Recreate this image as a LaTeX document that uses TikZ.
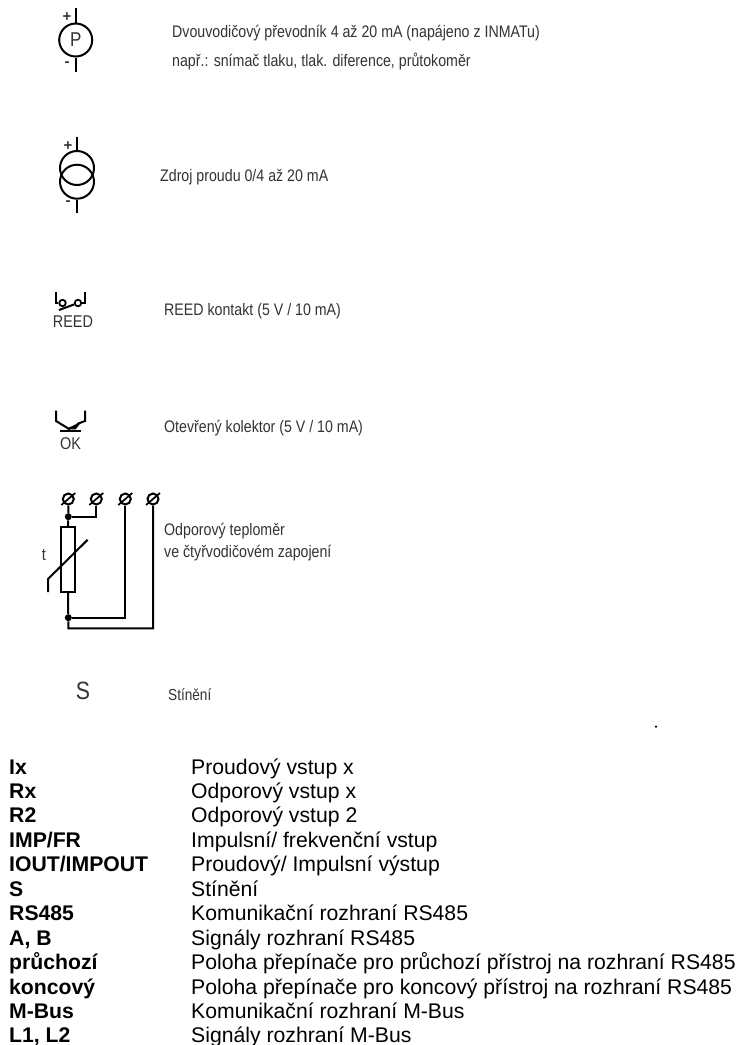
\documentclass[tikz,border=0pt]{standalone}
\usepackage{fontspec}
\setmainfont{Liberation Sans}
\newfontfamily\narrowf[FakeStretch=0.85]{Liberation Sans}
\definecolor{symtext}{HTML}{333333}
\tikzset{
 x=1pt,y=-1pt,
 wire/.style={line width=2pt,black},
 dot/.style={circle,fill=black,inner sep=0pt,minimum size=7pt},
 term/.style={circle,draw=black,line width=2pt,inner sep=0pt,minimum size=11pt},
 desc/.style={anchor=west,inner sep=0pt,font=\narrowf\fontsize{16.7}{19}\selectfont,text=symtext},
 sym/.style={inner sep=0pt,font=\narrowf\fontsize{17}{19}\selectfont,text=symtext},
 sign/.style={inner sep=0pt,font=\fontsize{15}{17}\selectfont\bfseries,text=symtext},
 key/.style={anchor=base west,inner sep=0pt,font=\fontsize{21.2}{24}\selectfont\bfseries},
 val/.style={anchor=base west,inner sep=0pt,font=\fontsize{21.2}{24}\selectfont},
}
\begin{document}
\begin{tikzpicture}
\useasboundingbox (0,0) rectangle (740,1045);
\clip (0,0) rectangle (740,1045);
% P transmitter
\node[circle,draw=black,line width=2pt,minimum size=33pt,inner sep=0pt,font=\narrowf\fontsize{20}{22}\selectfont,text=symtext] (pc) at (75.7,40) {P};
\coordinate (pt) at (75.7,8); \coordinate (pb) at (75.7,72);
\draw[wire] (pt) -- (pc); \draw[wire] (pc) -- (pb);
\node[sign] (pplus) at (67,17) {+};
\node[sign] (pminus) at (67,64) {-};
\node[desc] (d1a) at (172,33) {Dvouvodičový převodník 4 až 20 mA (napájeno z INMATu)};
\node[desc] (d1b) at (172,61) {např.: snímač tlaku, tlak. diference, průtokoměr};
% current source
\node[circle,draw=black,line width=2pt,minimum size=34pt,inner sep=0pt] (c1) at (77,168) {};
\node[circle,draw=black,line width=2pt,minimum size=34pt,inner sep=0pt] (c2) at (77,181.7) {};
\coordinate (ct) at (77,137); \coordinate (cb) at (77,213);
\draw[wire] (ct) -- (c1.north); \draw[wire] (c2.south) -- (cb);
\node[sign] (cplus) at (68,146) {+};
\node[sign] (cminus) at (68,203) {-};
\node[desc] (d2) at (160,177) {Zdroj proudu 0/4 až 20 mA};
% REED
\coordinate (rl) at (56,292); \coordinate (rr) at (85,292);
\node[circle,draw=black,line width=1.8pt,minimum size=6.5pt,inner sep=0pt] (ra) at (62.5,303) {};
\node[circle,draw=black,line width=1.8pt,minimum size=6.5pt,inner sep=0pt] (rb) at (78,303) {};
\draw[wire] (rl) |- (ra); \draw[wire] (rr) |- (rb);
\coordinate (rblade) at (59,310);
\draw[wire] (rblade) -- (rb);
\node[sym] (reed) at (73,322) {REED};
\node[desc] (d3) at (164,311) {REED kontakt (5 V / 10 mA)};
% OK
\coordinate (ol) at (56,410.5); \coordinate (or) at (85,410.5);
\coordinate (oc) at (70,429.5);
\coordinate (obl) at (60,430.5); \coordinate (obr) at (80.5,430.5);
\draw[wire] (ol) -- (56,421) -- (oc);
\draw[wire] (or) -- (85,421) -- (77,424);
\fill (81.7,421.5) -- (66,429) -- (75.5,429.5) -- cycle;
\draw[wire] (obl) -- (obr);
\node[sym] (ok) at (70.5,444) {OK};
\node[desc] (d4) at (164,428) {Otevřený kolektor (5 V / 10 mA)};
% RTD
\node[term] (t1) at (68.3,499) {};
\node[term] (t2) at (96.3,499) {};
\node[term] (t3) at (125.3,499) {};
\node[term] (t4) at (153,499) {};
\foreach \t in {t1,t2,t3,t4} \draw[line width=1.7pt] (\t.center)+(-7,6) -- +(7,-6);
\node[dot] (j1) at (68.3,516.7) {};
\node[dot] (j2) at (68.3,617.7) {};
\node[draw=black,line width=2pt,minimum width=13.4pt,minimum height=64.7pt,inner sep=0pt] (rtd) at (68,559.3) {};
\coordinate (b1) at (68.3,628.3);
\coordinate (b2) at (153,628.3);
\draw[wire] (t1) -- (j1) -- (rtd.north);
\draw[wire] (j1) -| (t2);
\draw[wire] (rtd.south) -- (j2) -- (b1) -- (b2) -- (t4);
\draw[wire] (j2) -| (t3);
\draw[wire] (48,592) -- (48,579) -- (87.7,539.7);
\node[sym] (tl) at (44,555) {t};
\node[desc] (d5a) at (164,531) {Odporový teploměr};
\node[desc] (d5b) at (164,553) {ve čtyřvodičovém zapojení};
% S
\node[sym,font=\narrowf\fontsize{25}{27}\selectfont] (s) at (83,691) {S};
\node[desc,font=\narrowf\fontsize{16}{18}\selectfont] (d6) at (168,695) {Stínění};
\node[circle,fill=black,inner sep=0pt,minimum size=2.5pt] (spk) at (656,726.5) {};
% legend
\foreach \n/\k/\v [count=\i from 0] in {
 a/Ix/Proudový vstup x,
 b/Rx/Odporový vstup x,
 c/R2/Odporový vstup 2,
 d/IMP\slash FR/Impulsní\slash{} frekvenční vstup,
 e/IOUT\slash IMPOUT/Proudový\slash{} Impulsní výstup,
 f/S/Stínění,
 g/RS485/Komunikační rozhraní RS485,
 h/{A, B}/Signály rozhraní RS485,
 i/průchozí/Poloha přepínače pro průchozí přístroj na rozhraní RS485,
 j/koncový/Poloha přepínače pro koncový přístroj na rozhraní RS485,
 k/M-Bus/Komunikační rozhraní M-Bus,
 l/{L1, L2}/Signály rozhraní M-Bus}
 {
 \node[key] (k\n) at (9,{774+\i*24.45}) {\k};
 \node[val] (v\n) at (191,{774+\i*24.45}) {\v};
 }
\end{tikzpicture}
\end{document}
